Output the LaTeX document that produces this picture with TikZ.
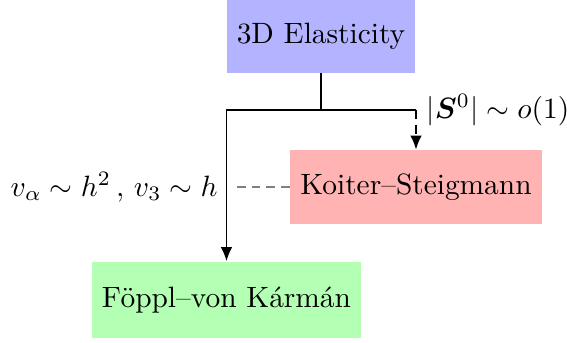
\documentclass[tikz,border=0pt]{standalone}
\usepackage{xcolor}
\usepackage{tikz}
\usepackage{amsmath}
\usepackage{bm}
\definecolor{elastblue}{RGB}{179,179,255}
\definecolor{koiterred}{RGB}{255,179,179}
\definecolor{fopplgreen}{RGB}{179,255,179}
\usetikzlibrary{shapes,arrows.meta,positioning,calc}

\begin{document}
\begin{tikzpicture}[
    x=0.34pt, y=-0.34pt,
    model/.style={rectangle, inner sep=3.4pt, minimum height=25pt},
    branch/.style={semithick, black},
    limit/.style={semithick, -{Latex[length=4.8pt,width=4pt]}}
]
\useasboundingbox (0,0) rectangle (567,343);

% Models
\node[model, fill=elastblue] (elast) at (321,36) {3D Elasticity};
\node[model, fill=koiterred] (koiter) at (416,187) {Koiter--Steigmann};
\node[model, fill=fopplgreen, minimum height=26pt] (foppl) at (226.5,300) {F\"oppl--von K\'arm\'an};

% Split points
\coordinate (split) at (321,110);
\coordinate (rcorner) at (416,110);
\coordinate (lstop) at (235,187);

% Limits
\draw[branch] (elast.south) -- (split);
\draw[branch] (split) -- (rcorner);
\draw[limit] (split) -| (foppl.north);
\draw[limit, densely dashed] (rcorner) -- node[pos=0, right] {$|\bm{S}^0|\sim o(1)$} (koiter.north);
\draw[semithick, densely dashed, gray] (koiter.west) -- (lstop);
\node[anchor=east] (scaling) at (228,187) {$v_\alpha\sim h^2\,,\,v_3\sim h$};

\end{tikzpicture}
\end{document}
